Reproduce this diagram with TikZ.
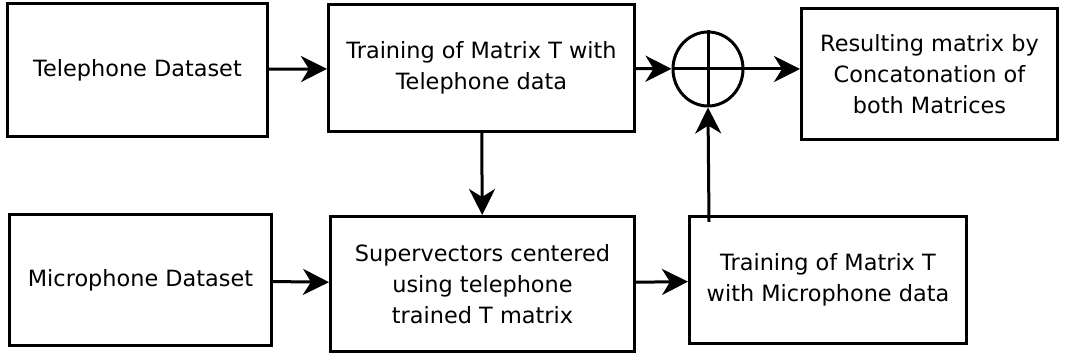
\documentclass[tikz,border=0pt]{standalone}
\usepackage{fontspec}
\setmainfont{DejaVu Sans}
\usetikzlibrary{positioning, shapes.geometric, arrows.meta}

\begin{document}
\begin{tikzpicture}[x=0.5pt, y=-0.5pt, line width=1.5pt,
block/.style={rectangle,draw,align=center,inner sep=2pt,
  font=\fontsize{11.2}{15.5}\selectfont},
sum node/.style={ellipse,draw,minimum width=35pt,minimum height=37pt,inner sep=0pt},
flow/.style={-{Stealth[length=13pt,width=13pt,inset=4pt]}}]

\useasboundingbox (0,0) rectangle (1066,356);

\node[block, minimum width=130pt, minimum height=66.5pt] (tel) at (137.5,70) {Telephone Dataset};
\node[block, minimum width=153pt, minimum height=63.5pt] (traintel) at (481.5,68) {Training of Matrix T with\\Telephone data};
\node[sum node] (sum) at (708,69) {};
\node[block, minimum width=128pt, minimum height=65.5pt] (result) at (929.5,74) {Resulting matrix by\\Concatonation of\\both Matrices};
\node[block, minimum width=131pt, minimum height=65.5pt] (mic) at (140.5,280) {Microphone Dataset};
\node[block, minimum width=152pt, minimum height=67.5pt] (super) at (482.5,284) {Supervectors centered\\using telephone\\trained T matrix};
\node[block, minimum width=138.5pt, minimum height=63.5pt] (trainmic) at (828,280) {Training of Matrix T\\with Microphone data};

\coordinate (tap) at (709,222);

% plus sign inside the summing junction
\draw (sum.north) -- (sum.south);
\draw (sum.west) -- (sum.east);

\draw[flow] (tel) -- (traintel);
\draw[flow] (traintel) -- (sum);
\draw[flow] (sum.east) -- (sum.east -| result.west);
\draw[flow] (traintel) -- (super);
\draw[flow] (mic) -- (super);
\draw[flow] (super) -- (trainmic);
\draw[flow] (tap) -- (sum.south);
\end{tikzpicture}
\end{document}
